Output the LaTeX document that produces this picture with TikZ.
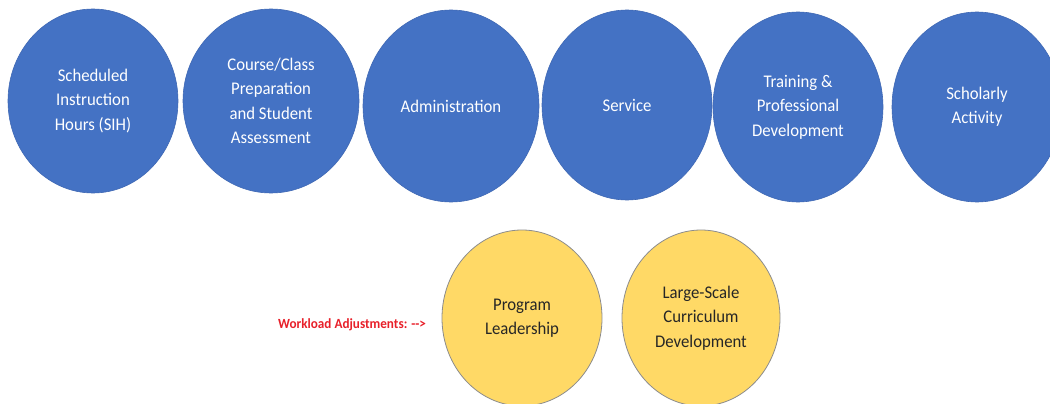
\documentclass[tikz,border=0pt]{standalone}
\usepackage{fontspec}
\setmainfont{Carlito}[FakeStretch=0.94]
\usetikzlibrary{shapes.geometric}
\definecolor{cblue}{HTML}{4472C4}
\definecolor{cblueline}{HTML}{3F68B4}
\definecolor{cyellow}{HTML}{FFD966}
\definecolor{cyline}{HTML}{8C8C8C}
\definecolor{cred}{HTML}{E8202A}
\definecolor{ctext}{HTML}{262626}
\tikzset{
  bluecirc/.style={ellipse, fill=cblue, draw=cblueline, line width=0.6pt, inner sep=0pt,
    text=white, align=center, font=\fontsize{17.8}{24.5}\selectfont},
  yelcirc/.style={ellipse, fill=cyellow, draw=cyline, line width=0.8pt, inner sep=0pt,
    text=ctext, align=center, font=\fontsize{17.8}{24.5}\selectfont},
  redlabel/.style={text=cred, font=\bfseries\fontsize{14}{16}\selectfont, inner sep=0pt}
}
\begin{document}
\begin{tikzpicture}[x=1pt,y=-1pt]
\useasboundingbox (0,0) rectangle (1050,404);
\clip (0,0) rectangle (1050,404);
\fill[white] (0,0) rectangle (1050,404);
\node[bluecirc, minimum width=170pt, minimum height=184pt] (sih) at (93,101) {Scheduled\\Instruction\\Hours (SIH)};
\node[bluecirc, minimum width=176pt, minimum height=184pt] (prep) at (271,101) {Course/Class\\Preparation\\and Student\\Assessment};
\node[bluecirc, minimum width=176pt, minimum height=192pt] (admin) at (451,106) {Administration};
\node[bluecirc, minimum width=170pt, minimum height=190pt] (serv) at (627,105) {Service};
\node[bluecirc, minimum width=170pt, minimum height=190pt] (train) at (798,107) {Training \&\\Professional\\Development};
\node[bluecirc, minimum width=170pt, minimum height=190pt] (schol) at (977,107) {Scholarly\\Activity};
\node[yelcirc, minimum width=160pt, minimum height=176pt] (prog) at (522,318) {Program\\Leadership};
\node[yelcirc, minimum width=158pt, minimum height=176pt] (curr) at (701,318) {Large-Scale\\Curriculum\\Development};
\node[redlabel, anchor=west] (wl) at (278,325) {Workload Adjustments: -{}->};
\end{tikzpicture}
\end{document}
